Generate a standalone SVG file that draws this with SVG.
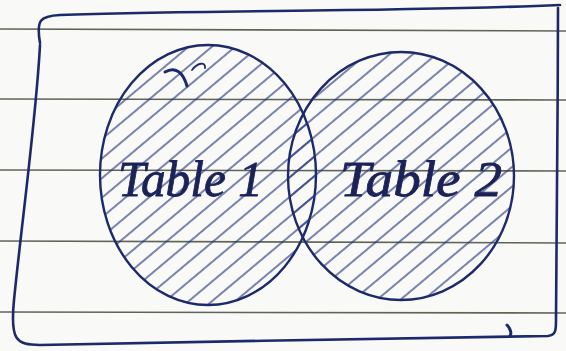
<svg xmlns="http://www.w3.org/2000/svg" width="566" height="351" viewBox="0 0 566 351">
<style>
.rule{stroke:#5f6457;stroke-width:1.6;fill:none}
.ink{stroke:#1c2a6b;fill:none;stroke-linecap:round;stroke-linejoin:round}
.lbl{font-family:"Liberation Serif","DejaVu Serif",serif;font-style:italic;font-size:50px;fill:#1a2258;stroke:#1a2258;stroke-width:0.8}
</style>
<defs>
<pattern id="hatch" patternUnits="userSpaceOnUse" width="15" height="15" patternTransform="rotate(-40)">
<line x1="0" y1="7" x2="15" y2="7" stroke="#23317e" stroke-width="1.2"/>
</pattern>
<clipPath id="c1"><ellipse cx="208" cy="175" rx="108" ry="130"/></clipPath>
<clipPath id="c2"><ellipse cx="401" cy="176" rx="113" ry="124"/></clipPath>
</defs>
<rect width="566" height="351" fill="#f9f9f7"/>
<g id="paper-lines">
<path class="rule" d="M0 29 L566 31"/>
<path class="rule" d="M0 99 L566 100"/>
<path class="rule" d="M0 170 L566 171"/>
<path class="rule" d="M0 241 L566 243"/>
<path class="rule" d="M0 312 L566 313"/>
</g>
<g id="frame">
<path class="ink" stroke-width="2.6" d="M40 43 C36 20 40 16 60 15 C200 10 400 12 560 5 M40 45 C36 120 22 220 14 300 C10 340 16 345 40 345 C200 342 400 338 548 336 C556 335 556 330 556 320 C556 250 558 120 558 8"/>
<path class="ink" stroke-width="3" d="M507 325 C510 328 512 333 510 336"/>
</g>
<g id="table1">
<rect x="90" y="40" width="240" height="270" fill="url(#hatch)" clip-path="url(#c1)"/>
<ellipse class="ink" stroke-width="2.4" cx="208" cy="175" rx="108" ry="130"/>
<path class="ink" stroke-width="3" d="M165 72 C175 66 183 72 187 86"/>
<path class="ink" stroke-width="1.8" d="M192 70 C198 62 206 62 205 68"/>
<text class="lbl" x="118" y="196" textLength="145" lengthAdjust="spacingAndGlyphs">Table 1</text>
</g>
<g id="table2">
<rect x="280" y="45" width="240" height="262" fill="url(#hatch)" clip-path="url(#c2)"/>
<ellipse class="ink" stroke-width="2.4" cx="401" cy="176" rx="113" ry="124"/>
<text class="lbl" x="340" y="196" textLength="162" lengthAdjust="spacingAndGlyphs">Table 2</text>
</g>
<g id="connectors"/>
</svg>
